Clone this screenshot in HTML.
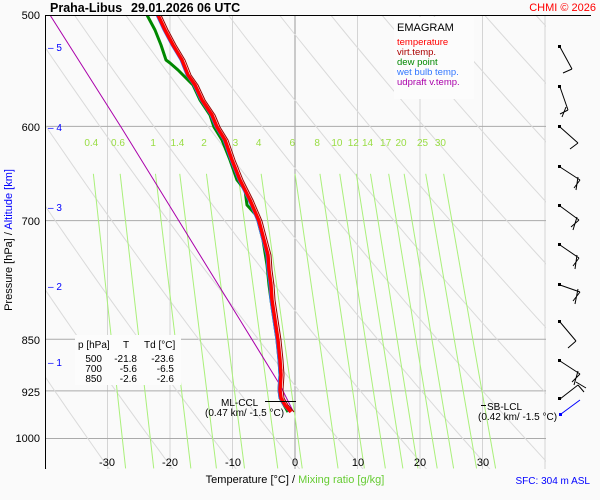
<!DOCTYPE html>
<html><head><meta charset="utf-8"><style>
html,body{margin:0;padding:0;background:#fafafa;}
svg{display:block;font-family:"Liberation Sans",Arial,sans-serif;}
</style></head><body>
<svg id="s" width="600" height="500" viewBox="0 0 600 500" xmlns="http://www.w3.org/2000/svg">
<rect width="600" height="500" fill="#fafafa"/>
<defs><clipPath id="c"><rect x="46" y="15" width="500" height="454"/></clipPath></defs>
<g id="bg" clip-path="url(#c)"></g>
<g id="fg" clip-path="url(#c)"></g>
<line x1="45.5" y1="15" x2="45.5" y2="469" stroke="#000"/>
<line x1="45" y1="15.5" x2="591" y2="15.5" stroke="#000"/>
<text x="50" y="12" font-size="12.5" font-weight="bold">Praha-Libus</text>
<text x="131" y="12" font-size="12.5" font-weight="bold">29.01.2026 06 UTC</text>
<text x="596" y="11" font-size="11" fill="#f00" text-anchor="end">CHMI © 2026</text>
<g font-size="11" text-anchor="end">
<text x="40" y="19">500</text><text x="40" y="131">600</text><text x="40" y="225">700</text>
<text x="40" y="344">850</text><text x="40" y="396">925</text><text x="40" y="442">1000</text>
</g>
<g font-size="10" fill="#00f">
<text x="48" y="51">– 5</text><text x="48" y="131">– 4</text><text x="48" y="211">– 3</text>
<text x="48" y="290">– 2</text><text x="48" y="366">– 1</text>
</g>
<text transform="translate(12,240) rotate(-90)" font-size="11" text-anchor="middle">Pressure [hPa]  /  <tspan fill="#00f">Altitude [km]</tspan></text>
<g font-size="11" text-anchor="middle">
<text x="107" y="466">-30</text><text x="170" y="466">-20</text><text x="233" y="466">-10</text>
<text x="295" y="466">0</text><text x="358" y="466">10</text><text x="420" y="466">20</text><text x="483" y="466">30</text>
</g>
<text x="295" y="483" font-size="11" text-anchor="middle">Temperature [°C]  /  <tspan fill="#66cc33">Mixing ratio [g/kg]</tspan></text>
<text x="590" y="484" font-size="10" fill="#00f" text-anchor="end">SFC: 304 m ASL</text>
<g id="mrl" font-size="10" fill="#99dd44" text-anchor="middle"></g>
<rect x="394" y="17" width="80" height="82" fill="#fcfcfc"/>
<text x="397" y="31" font-size="11">EMAGRAM</text>
<g font-size="9.5">
<text x="397" y="45" fill="#f00">temperature</text>
<text x="397" y="55" fill="#a00">virt.temp.</text>
<text x="397" y="65" fill="#080">dew point</text>
<text x="397" y="75" fill="#3377ff">wet bulb temp.</text>
<text x="397" y="85" fill="#a0a">udpraft v.temp.</text>
</g>
<rect x="75" y="335" width="106" height="50" fill="#fcfcfc"/>
<g font-size="10">
<text x="78" y="348">p [hPa]</text><text x="123" y="348">T</text><text x="144" y="348">Td [°C]</text>
</g>
<g font-size="10" text-anchor="end">
<text x="102" y="362">500</text><text x="137" y="362">-21.8</text><text x="174" y="362">-23.6</text>
<text x="102" y="372">700</text><text x="137" y="372">-5.6</text><text x="174" y="372">-6.5</text>
<text x="102" y="382">850</text><text x="137" y="382">-2.6</text><text x="174" y="382">-2.6</text>
</g>
<line x1="265" y1="401.5" x2="296" y2="401.5" stroke="#000"/>
<text x="221" y="406" font-size="10">ML-CCL</text>
<text x="205" y="416" font-size="10">(0.47 km/ -1.5 °C)</text>
<line x1="481" y1="405.5" x2="486" y2="405.5" stroke="#000"/>
<text x="487" y="410" font-size="10">SB-LCL</text>
<text x="478" y="420" font-size="10">(0.42 km/ -1.5 °C)</text>
<g id="wind" stroke="#000" fill="none" stroke-width="1"></g>
<script>
var NS="http://www.w3.org/2000/svg";
function X(T){return 295+6.25*T;}
function Y(p){return 15+611*Math.log(p/500);}
function el(par,tag,a){var e=document.createElementNS(NS,tag);for(var k in a)e.setAttribute(k,a[k]);document.getElementById(par).appendChild(e);return e;}
for(var T=-80;T<=40;T+=10){el("bg","line",{x1:X(T),y1:15,x2:X(T),y2:469,stroke:T==0?"#999":"#d4d4d4"});}
[600,700,850,925,1000].forEach(function(p){el("bg","line",{x1:45,y1:Y(p),x2:546,y2:Y(p),stroke:"#aaa"});});
for(var th=200;th<=460;th+=10){var d="";for(var p=480;p<=1060;p+=20){var t=th*Math.pow(p/1000,0.286)-273.15;d+=(p==480?"M":"L")+X(t).toFixed(1)+","+Y(p).toFixed(1);}el("bg","path",{d:d,stroke:"#dadada",fill:"none"});}
var ws=[0.4,0.6,1,1.4,2,3,4,6,8,10,12,14,17,20,25,30];
function td(w,p){var e=w*p/(622+w);var l=Math.log(e/6.112);return 243.5*l/(17.67-l);}
ws.forEach(function(w){var p1=640,p2=1040;el("bg","line",{x1:X(td(w,p1)),y1:Y(p1)+8,x2:X(td(w,p2)),y2:Y(p2)+6,stroke:"#aaf07a"});
var t=el("mrl","text",{x:X(td(w,620)).toFixed(1),y:146});t.textContent=w;});
function pl(pts,c,w){el("fg","polyline",{points:pts.map(function(a){return a.join(",")}).join(" "),stroke:c,"stroke-width":w,fill:"none","stroke-linejoin":"round"});}
var Tp=[[158,15],[165,30],[173,45],[182,60],[188,75],[195,85],[202,100],[212,115],[217,127],[225,140],[232,160],[240,180],[250,200],[259,221],[264,240],[268,255],[269,270],[271,285],[272,300],[275,320],[278,340],[280,360],[281,375],[280,390],[281,398],[285,405],[291,412]];
var Dp=[[147,15],[155,30],[161,45],[166,60],[170,63],[178,70],[188,80],[193,85],[200,100],[210,115],[214,127],[222,140],[230,160],[237,180],[245,190],[247,205],[256,215],[258,221],[263,240],[267,265],[269,285],[271,300],[274,320],[277,340],[279,360],[280,375],[279,390],[280,398],[284,405],[288,412]];
pl([[50,15],[121,127],[240,320],[280,385],[293,411]],"#a0a",1);
pl(Dp,"#080",3);
pl(Tp.map(function(a){return [a[0]-2,a[1]]}),"#3377ff",1);
pl(Tp.map(function(a){return [a[0]+3,a[1]]}),"#900",1);
pl(Tp,"#f00",3.5);
var W=[[47,572,69,[[563,73]]],[87,568,110,[[560,114],[562,117]]],[127,578,143,[[570,149]]],[167,580,180,[[574,188],[576,190]]],[206,579,220,[[571,227],[573,230]]],[245,579,258,[[573,266],[575,269]]],[285,580,292,[[573,301],[575,304]]],[322,576,341,[[568,348]]],[361,580,374,[[572,382],[574,385]]],[399,578,385,[[584,392],[586,388]]]];
W.forEach(function(b){el("wind","rect",{x:558,y:b[0]-2,width:3,height:3,fill:"#000",stroke:"none"});
var d="M560,"+b[0]+"L"+b[1]+","+b[2];b[3].forEach(function(q,i){var sx=b[1]-(i*2),sy=b[2]-(i*3);d+="M"+sx+","+sy+"L"+q[0]+","+q[1];});el("wind","path",{d:d});});
el("wind","rect",{x:559,y:413,width:3,height:3,fill:"#00f",stroke:"none"});
el("wind","line",{x1:561,y1:414,x2:580,y2:400,stroke:"#00f"});
</script>
</svg>
</body></html>
